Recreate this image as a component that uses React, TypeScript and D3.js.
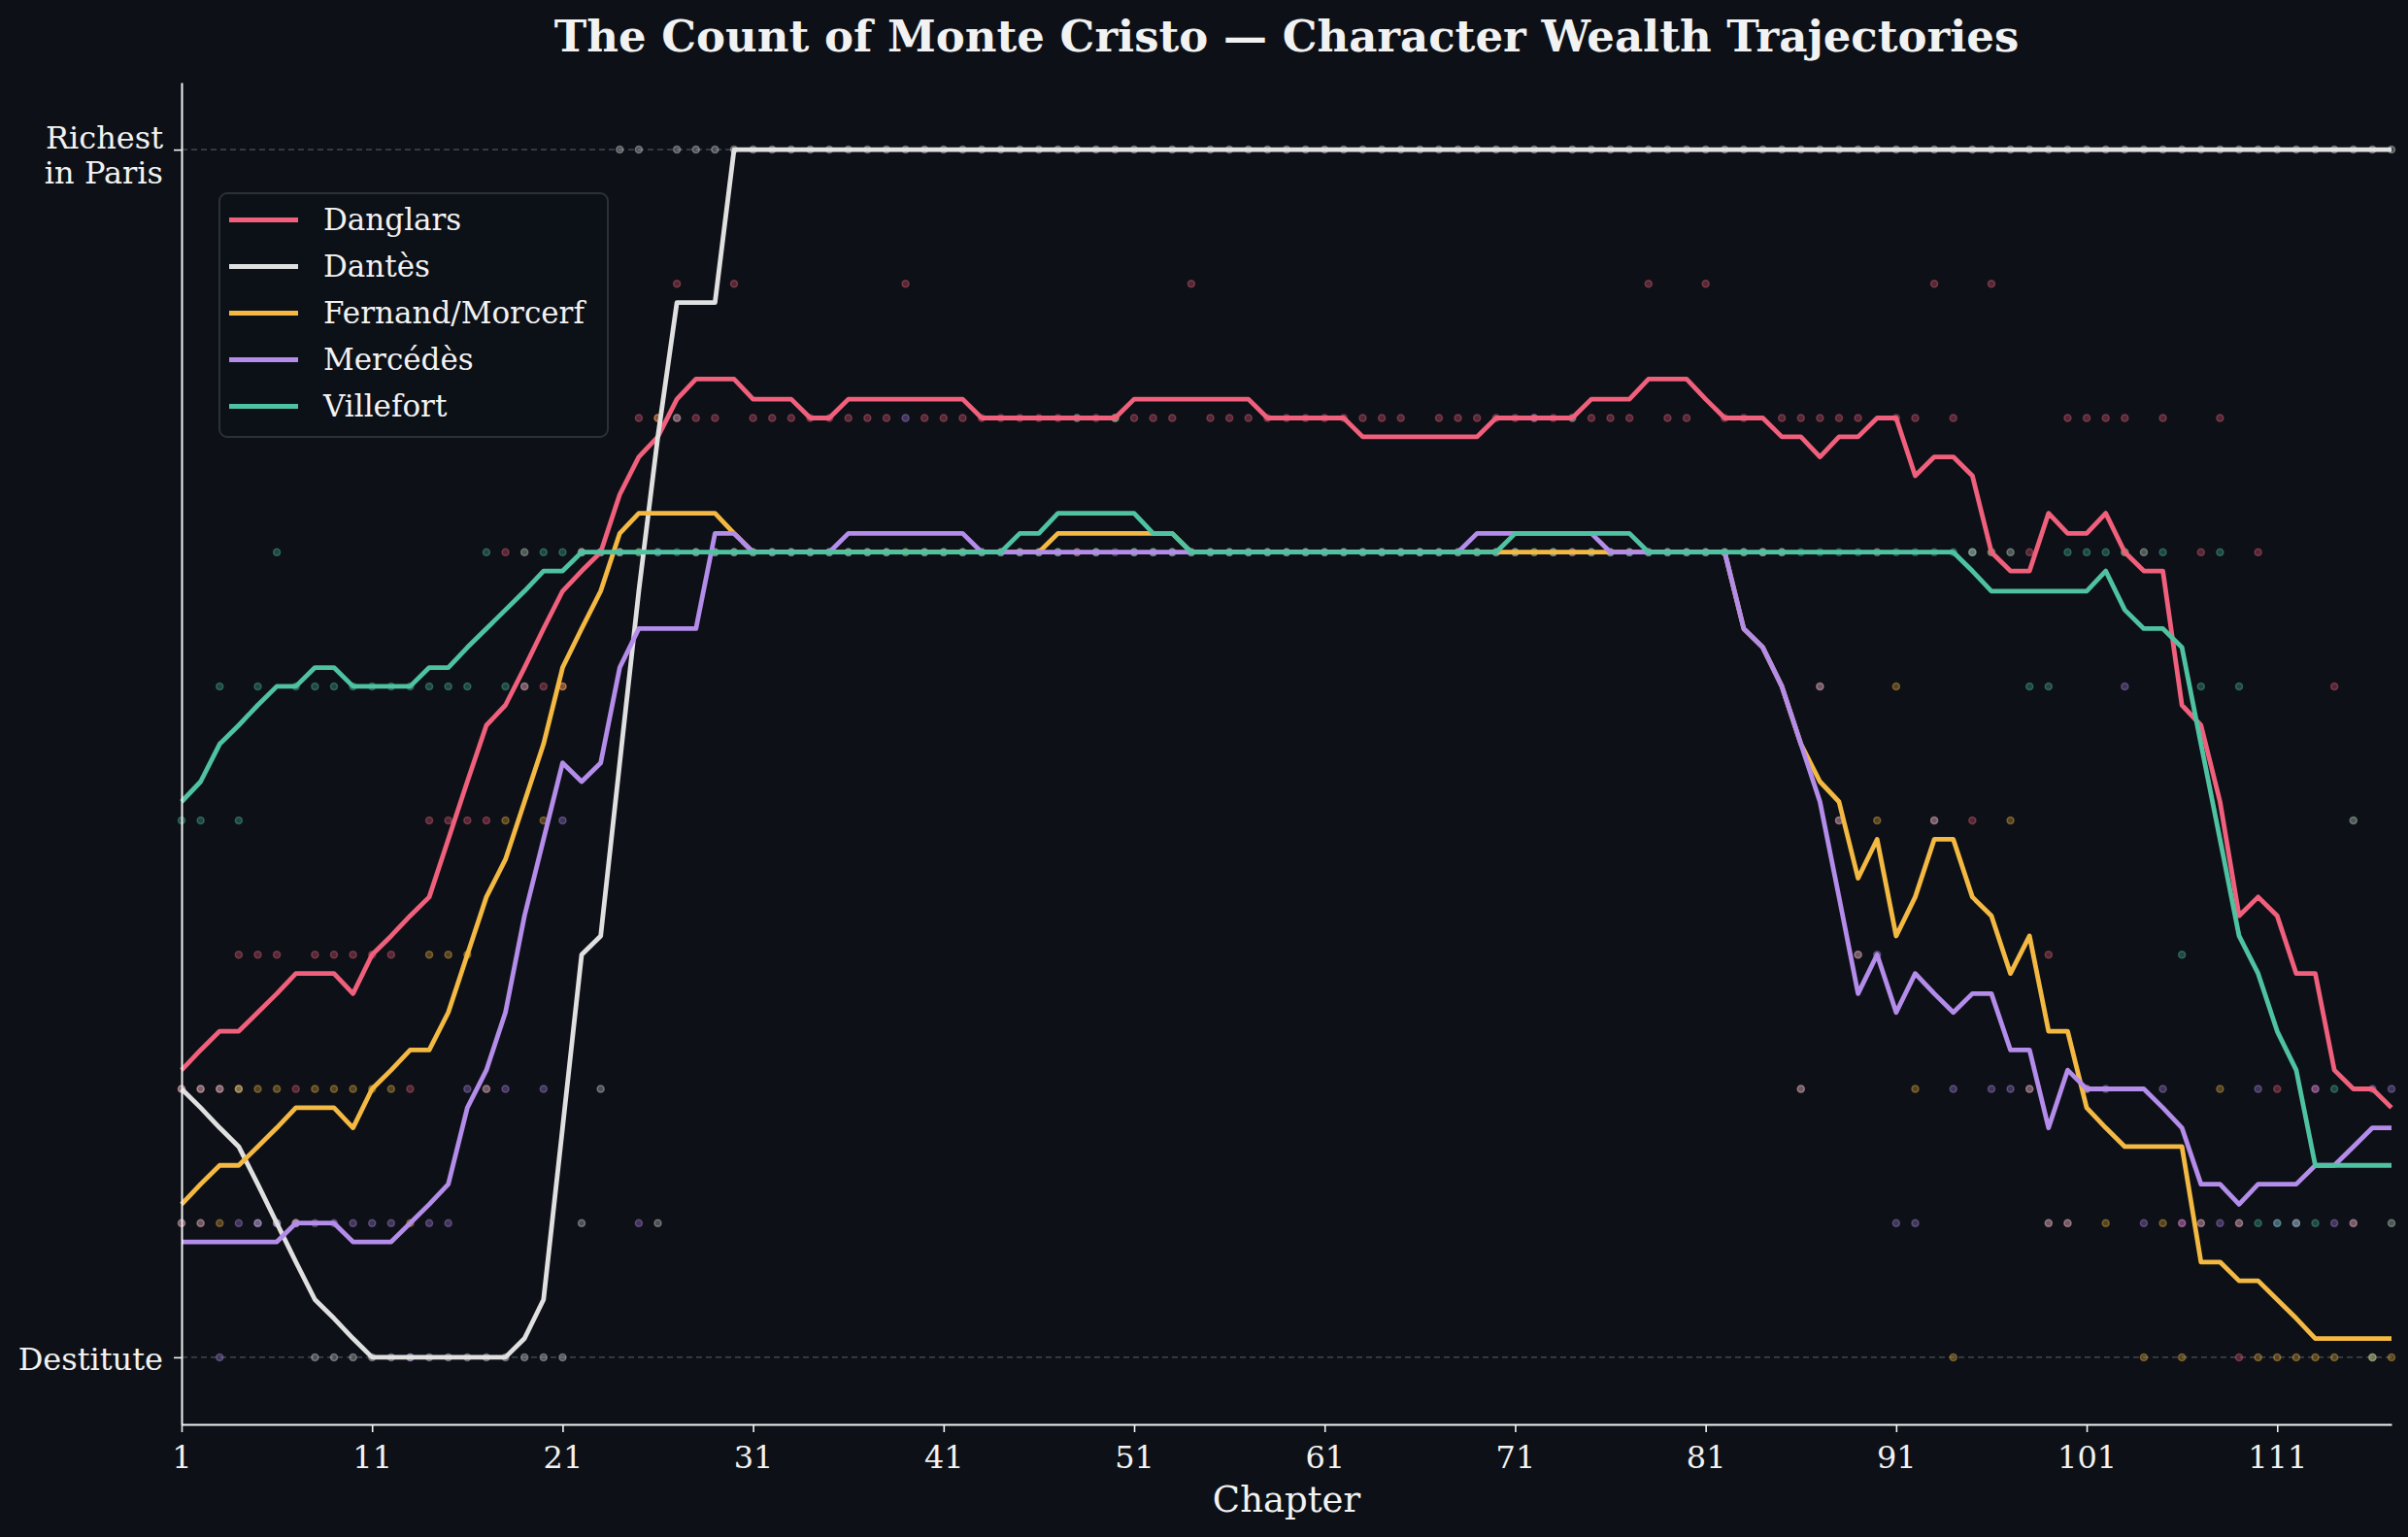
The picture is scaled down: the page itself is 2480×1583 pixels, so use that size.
import React, { useEffect, useState } from 'react';
import * as d3 from 'd3';

// chapters 1..117
const chapters = d3.range(1, 118);
const chapterTicks = [1, 11, 21, 31, 41, 51, 61, 71, 81, 91, 101, 111];
const wealthTicks = [0, 9];
const wealthLabels = [['Destitute'], ['Richest', 'in Paris']];

// 7-chapter rolling mean of the wealth score (solid lines)
const danglarsTrend = [
  2.14, 2.29, 2.43, 2.43, 2.57, 2.71, 2.86, 2.86, 2.86, 2.71,
  3, 3.14, 3.29, 3.43, 3.86, 4.29, 4.71, 4.86, 5.14, 5.43,
  5.71, 5.86, 6, 6.43, 6.71, 6.86, 7.14, 7.29, 7.29, 7.29,
  7.14, 7.14, 7.14, 7, 7, 7.14, 7.14, 7.14, 7.14, 7.14,
  7.14, 7.14, 7, 7, 7, 7, 7, 7, 7, 7,
  7.14, 7.14, 7.14, 7.14, 7.14, 7.14, 7.14, 7, 7, 7,
  7, 7, 6.86, 6.86, 6.86, 6.86, 6.86, 6.86, 6.86, 7,
  7, 7, 7, 7, 7.14, 7.14, 7.14, 7.29, 7.29, 7.29,
  7.14, 7, 7, 7, 6.86, 6.86, 6.71, 6.86, 6.86, 7,
  7, 6.57, 6.71, 6.71, 6.57, 6, 5.86, 5.86, 6.29, 6.14,
  6.14, 6.29, 6, 5.86, 5.86, 4.86, 4.71, 4.14, 3.29, 3.43,
  3.29, 2.86, 2.86, 2.14, 2, 2, 1.86,
];
const dantesTrend = [
  2, 1.86, 1.71, 1.57, 1.29, 1, 0.71, 0.43, 0.29, 0.14,
  0, 0, 0, 0, 0, 0, 0, 0, 0.14, 0.43,
  1.71, 3, 3.14, 4.43, 5.71, 6.86, 7.86, 7.86, 7.86, 9,
  9, 9, 9, 9, 9, 9, 9, 9, 9, 9,
  9, 9, 9, 9, 9, 9, 9, 9, 9, 9,
  9, 9, 9, 9, 9, 9, 9, 9, 9, 9,
  9, 9, 9, 9, 9, 9, 9, 9, 9, 9,
  9, 9, 9, 9, 9, 9, 9, 9, 9, 9,
  9, 9, 9, 9, 9, 9, 9, 9, 9, 9,
  9, 9, 9, 9, 9, 9, 9, 9, 9, 9,
  9, 9, 9, 9, 9, 9, 9, 9, 9, 9,
  9, 9, 9, 9, 9, 9, 9,
];
const fernandTrend = [
  1.14, 1.29, 1.43, 1.43, 1.57, 1.71, 1.86, 1.86, 1.86, 1.71,
  2, 2.14, 2.29, 2.29, 2.57, 3, 3.43, 3.71, 4.14, 4.57,
  5.14, 5.43, 5.71, 6.14, 6.29, 6.29, 6.29, 6.29, 6.29, 6.14,
  6, 6, 6, 6, 6, 6, 6, 6, 6, 6,
  6, 6, 6, 6, 6, 6, 6.14, 6.14, 6.14, 6.14,
  6.14, 6.14, 6.14, 6, 6, 6, 6, 6, 6, 6,
  6, 6, 6, 6, 6, 6, 6, 6, 6, 6,
  6, 6, 6, 6, 6, 6, 6, 6, 6, 6,
  6, 6, 5.43, 5.29, 5, 4.57, 4.29, 4.14, 3.57, 3.86,
  3.14, 3.43, 3.86, 3.86, 3.43, 3.29, 2.86, 3.14, 2.43, 2.43,
  1.86, 1.71, 1.57, 1.57, 1.57, 1.57, 0.71, 0.71, 0.57, 0.57,
  0.43, 0.29, 0.14, 0.14, 0.14, 0.14, 0.14,
];
const mercedesTrend = [
  0.86, 0.86, 0.86, 0.86, 0.86, 0.86, 1, 1, 1, 0.86,
  0.86, 0.86, 1, 1.14, 1.29, 1.86, 2.14, 2.57, 3.29, 3.86,
  4.43, 4.29, 4.43, 5.14, 5.43, 5.43, 5.43, 5.43, 6.14, 6.14,
  6, 6, 6, 6, 6, 6.14, 6.14, 6.14, 6.14, 6.14,
  6.14, 6.14, 6, 6, 6, 6, 6, 6, 6, 6,
  6, 6, 6, 6, 6, 6, 6, 6, 6, 6,
  6, 6, 6, 6, 6, 6, 6, 6, 6.14, 6.14,
  6.14, 6.14, 6.14, 6.14, 6.14, 6, 6, 6, 6, 6,
  6, 6, 5.43, 5.29, 5, 4.57, 4.14, 3.43, 2.71, 3,
  2.57, 2.86, 2.71, 2.57, 2.71, 2.71, 2.29, 2.29, 1.71, 2.14,
  2, 2, 2, 2, 1.86, 1.71, 1.29, 1.29, 1.14, 1.29,
  1.29, 1.29, 1.43, 1.43, 1.57, 1.71, 1.71,
];
const villefortTrend = [
  4.14, 4.29, 4.57, 4.71, 4.86, 5, 5, 5.14, 5.14, 5,
  5, 5, 5, 5.14, 5.14, 5.29, 5.43, 5.57, 5.71, 5.86,
  5.86, 6, 6, 6, 6, 6, 6, 6, 6, 6,
  6, 6, 6, 6, 6, 6, 6, 6, 6, 6,
  6, 6, 6, 6, 6.14, 6.14, 6.29, 6.29, 6.29, 6.29,
  6.29, 6.14, 6.14, 6, 6, 6, 6, 6, 6, 6,
  6, 6, 6, 6, 6, 6, 6, 6, 6, 6,
  6.14, 6.14, 6.14, 6.14, 6.14, 6.14, 6.14, 6, 6, 6,
  6, 6, 6, 6, 6, 6, 6, 6, 6, 6,
  6, 6, 6, 6, 5.86, 5.71, 5.71, 5.71, 5.71, 5.71,
  5.71, 5.86, 5.57, 5.43, 5.43, 5.29, 4.57, 3.86, 3.14, 2.86,
  2.43, 2.14, 1.43, 1.43, 1.43, 1.43, 1.43,
];

// raw per-chapter wealth score, 0 = destitute .. 9 = richest (faint dots)
const danglarsScore = [
  2, 2, 2, 3, 3, 3, 2, 3, 3, 3,
  3, 3, 2, 4, 4, 4, 4, 6, 6, 5,
  5, 6, 6, 6, 7, 7, 8, 7, 7, 8,
  7, 7, 7, 7, 7, 7, 7, 7, 8, 7,
  7, 7, 7, 7, 7, 7, 7, 7, 7, 7,
  7, 7, 7, 8, 7, 7, 7, 7, 7, 7,
  7, 7, 7, 7, 7, 6, 7, 7, 7, 7,
  7, 7, 7, 7, 7, 7, 7, 8, 7, 7,
  8, 7, 7, 6, 7, 7, 7, 7, 7, 6,
  7, 7, 8, 7, 4, 8, 6, 6, 3, 7,
  7, 7, 7, 6, 7, 1, 6, 7, 0, 6,
  2, 1, 2, 5, 4, 0, 1,
];
const dantesScore = [
  2, 2, 2, 2, 1, 1, 1, 0, 0, 0,
  0, 0, 0, 0, 0, 0, 0, 0, 0, 0,
  0, 1, 2, 9, 9, 1, 9, 9, 9, 9,
  9, 9, 9, 9, 9, 9, 9, 9, 9, 9,
  9, 9, 9, 9, 9, 9, 9, 9, 9, 9,
  9, 9, 9, 9, 9, 9, 9, 9, 9, 9,
  9, 9, 9, 9, 9, 9, 9, 9, 9, 9,
  9, 9, 9, 9, 9, 9, 9, 9, 9, 9,
  9, 9, 9, 9, 9, 9, 9, 9, 9, 9,
  9, 9, 9, 9, 9, 9, 9, 9, 9, 9,
  9, 9, 9, 9, 9, 9, 9, 9, 9, 9,
  9, 9, 9, 9, 9, 9, 9,
];
const fernandScore = [
  1, 1, 1, 2, 2, 2, 1, 2, 2, 2,
  2, 2, 1, 3, 3, 3, 2, 4, 5, 4,
  5, 6, 6, 6, 6, 7, 7, 6, 6, 6,
  6, 6, 6, 6, 6, 6, 6, 6, 6, 6,
  6, 6, 6, 6, 6, 6, 6, 6, 6, 7,
  6, 6, 6, 6, 6, 6, 6, 6, 6, 6,
  6, 6, 6, 6, 6, 6, 6, 6, 6, 6,
  6, 6, 6, 6, 6, 6, 6, 6, 6, 6,
  6, 6, 6, 6, 6, 2, 5, 4, 3, 4,
  5, 2, 4, 0, 6, 6, 4, 2, 1, 1,
  2, 1, 6, 0, 1, 0, 1, 2, 1, 0,
  0, 0, 0, 0, 1, 0, 0,
];
const mercedesScore = [
  1, 1, 0, 1, 1, 1, 1, 1, 1, 1,
  1, 1, 0, 1, 1, 2, 2, 2, 5, 2,
  4, 6, 6, 6, 1, 6, 7, 6, 6, 6,
  6, 6, 6, 6, 6, 6, 6, 6, 7, 6,
  6, 6, 6, 6, 6, 6, 6, 6, 6, 6,
  6, 6, 6, 6, 6, 6, 6, 6, 6, 6,
  6, 6, 6, 6, 6, 6, 6, 6, 6, 6,
  6, 7, 6, 6, 6, 6, 6, 6, 6, 6,
  6, 6, 6, 6, 6, 2, 5, 4, 3, 3,
  1, 1, 4, 2, 6, 2, 2, 2, 1, 1,
  2, 2, 5, 1, 2, 1, 1, 1, 1, 2,
  1, 1, 2, 1, 1, 2, 2,
];
const villefortScore = [
  4, 4, 5, 4, 5, 6, 5, 5, 5, 5,
  5, 5, 5, 5, 5, 5, 6, 5, 6, 6,
  6, 6, 6, 6, 6, 6, 6, 6, 6, 6,
  6, 6, 6, 6, 6, 6, 6, 6, 6, 6,
  6, 6, 6, 6, 6, 6, 6, 7, 6, 7,
  6, 6, 6, 6, 6, 6, 6, 6, 6, 6,
  6, 6, 6, 6, 6, 6, 6, 6, 6, 6,
  6, 6, 6, 7, 6, 6, 6, 6, 6, 6,
  6, 6, 6, 6, 6, 6, 6, 6, 6, 6,
  6, 6, 6, 6, 6, 6, 6, 5, 5, 6,
  6, 6, 6, 6, 6, 3, 5, 6, 5, 1,
  1, 1, 1, 2, 4, 0, 1,
];

const series = [
  { name: 'Danglars', color: '#f0607c', trend: danglarsTrend, score: danglarsScore },
  { name: 'Dantès', color: '#e0e0e0', trend: dantesTrend, score: dantesScore },
  { name: 'Fernand/Morcerf', color: '#f4b942', trend: fernandTrend, score: fernandScore },
  { name: 'Mercédès', color: '#b48cea', trend: mercedesTrend, score: mercedesScore },
  { name: 'Villefort', color: '#4fc3a1', trend: villefortTrend, score: villefortScore },
];

const FONT = "'DejaVu Serif', serif";
const BG = '#0d1117';
const FG = '#f2f2f2';

const WealthChart: React.FC<{ width: number; height: number }> = ({ width, height }) => {
  const [svgRef, setSvgRef] = useState<SVGSVGElement | null>(null);

  useEffect(() => {
    if (!svgRef) return;
    const svg = d3.select(svgRef);
    svg.selectAll('*').remove();
    svg.attr('width', width).attr('height', height);

    const margin = { top: 85, right: 17, bottom: 116, left: 187 };
    const x = d3.scaleLinear().domain([1, 117]).range([margin.left, width - margin.right]);
    const y = d3.scaleLinear().domain([-0.5, 9.5]).range([height - margin.bottom, margin.top]);

    svg.append('rect').attr('width', width).attr('height', height).attr('fill', BG);

    // reference lines at both extremes
    svg.append('g')
      .selectAll('line')
      .data(wealthTicks)
      .enter()
      .append('line')
      .attr('x1', x(1))
      .attr('x2', x(117))
      .attr('y1', d => y(d))
      .attr('y2', d => y(d))
      .attr('stroke', '#3a3f47')
      .attr('stroke-width', 1.6)
      .attr('stroke-dasharray', '6,4');

    // raw scores
    series.forEach(s => {
      svg.append('g')
        .selectAll('circle')
        .data(s.score)
        .enter()
        .append('circle')
        .attr('cx', (_, i) => x(chapters[i]))
        .attr('cy', d => y(d))
        .attr('r', 3.5)
        .attr('fill', s.color)
        .attr('fill-opacity', 0.3)
        .attr('stroke', s.color)
        .attr('stroke-opacity', 0.38)
        .attr('stroke-width', 1.5);
    });

    // smoothed trajectories
    const line = d3.line<number>()
      .x((_, i) => x(chapters[i]))
      .y(d => y(d));

    series.forEach(s => {
      svg.append('path')
        .datum(s.trend)
        .attr('d', line)
        .attr('fill', 'none')
        .attr('stroke', s.color)
        .attr('stroke-width', 4.8)
        .attr('stroke-linejoin', 'round')
        .attr('stroke-linecap', 'butt');
    });

    // x axis
    const xAxis = svg.append('g')
      .attr('transform', `translate(0,${height - margin.bottom})`)
      .call(d3.axisBottom(x).tickValues(chapterTicks).tickFormat(d3.format('d')).tickSize(8).tickSizeOuter(0).tickPadding(14));
    xAxis.select('.domain').attr('stroke', FG).attr('stroke-width', 2);
    xAxis.selectAll('.tick line').attr('stroke', FG).attr('stroke-width', 1.6);
    xAxis.selectAll('.tick text')
      .attr('fill', FG)
      .style('font-family', FONT)
      .style('font-size', '32px');

    // y axis
    const yAxis = svg.append('g')
      .attr('transform', `translate(${margin.left},0)`)
      .call(d3.axisLeft(y).tickValues(wealthTicks).tickFormat(() => '').tickSize(8).tickSizeOuter(0));
    yAxis.select('.domain').attr('stroke', FG).attr('stroke-width', 2);
    yAxis.selectAll('.tick line').attr('stroke', FG).attr('stroke-width', 1.6);

    wealthTicks.forEach((t, i) => {
      const lines = wealthLabels[i];
      const txt = svg.append('text')
        .attr('text-anchor', 'end')
        .attr('fill', FG)
        .style('font-family', FONT)
        .style('font-size', '32px');
      const lh = 36;
      const y0 = y(t) - ((lines.length - 1) * lh) / 2 + (lines.length > 1 ? 6 : 2);
      lines.forEach((l, j) => {
        txt.append('tspan')
          .attr('x', margin.left - 19)
          .attr('y', y0 + j * lh)
          .attr('dy', '0.35em')
          .text(l);
      });
    });

    // x label
    svg.append('text')
      .attr('x', (x(1) + x(117)) / 2)
      .attr('y', 1557)
      .attr('text-anchor', 'middle')
      .attr('fill', FG)
      .style('font-family', FONT)
      .style('font-size', '37px')
      .text('Chapter');

    // title
    svg.append('text')
      .attr('x', (x(1) + x(117)) / 2)
      .attr('y', 53)
      .attr('text-anchor', 'middle')
      .attr('fill', FG)
      .style('font-family', FONT)
      .style('font-size', '45px')
      .style('font-weight', 'bold')
      .text('The Count of Monte Cristo — Character Wealth Trajectories');

    // legend
    const legend = svg.append('g').attr('transform', 'translate(226,199)');
    legend.append('rect')
      .attr('width', 400)
      .attr('height', 251)
      .attr('rx', 8)
      .attr('fill', BG)
      .attr('fill-opacity', 0.85)
      .attr('stroke', '#2c3037')
      .attr('stroke-width', 2);
    series.forEach((s, i) => {
      const ly = 27.5 + i * 48;
      legend.append('line')
        .attr('x1', 10)
        .attr('x2', 81)
        .attr('y1', ly)
        .attr('y2', ly)
        .attr('stroke', s.color)
        .attr('stroke-width', 4.8);
      legend.append('text')
        .attr('x', 107)
        .attr('y', ly)
        .attr('dy', '0.35em')
        .attr('fill', FG)
        .style('font-family', FONT)
        .style('font-size', '31px')
        .text(s.name);
    });
  }, [svgRef, width, height]);

  return <svg ref={setSvgRef} style={{ position: 'absolute', left: 0, top: 0, display: 'block' }} />;
};

export default function App() {
  return <WealthChart width={2480} height={1583} />;
}
